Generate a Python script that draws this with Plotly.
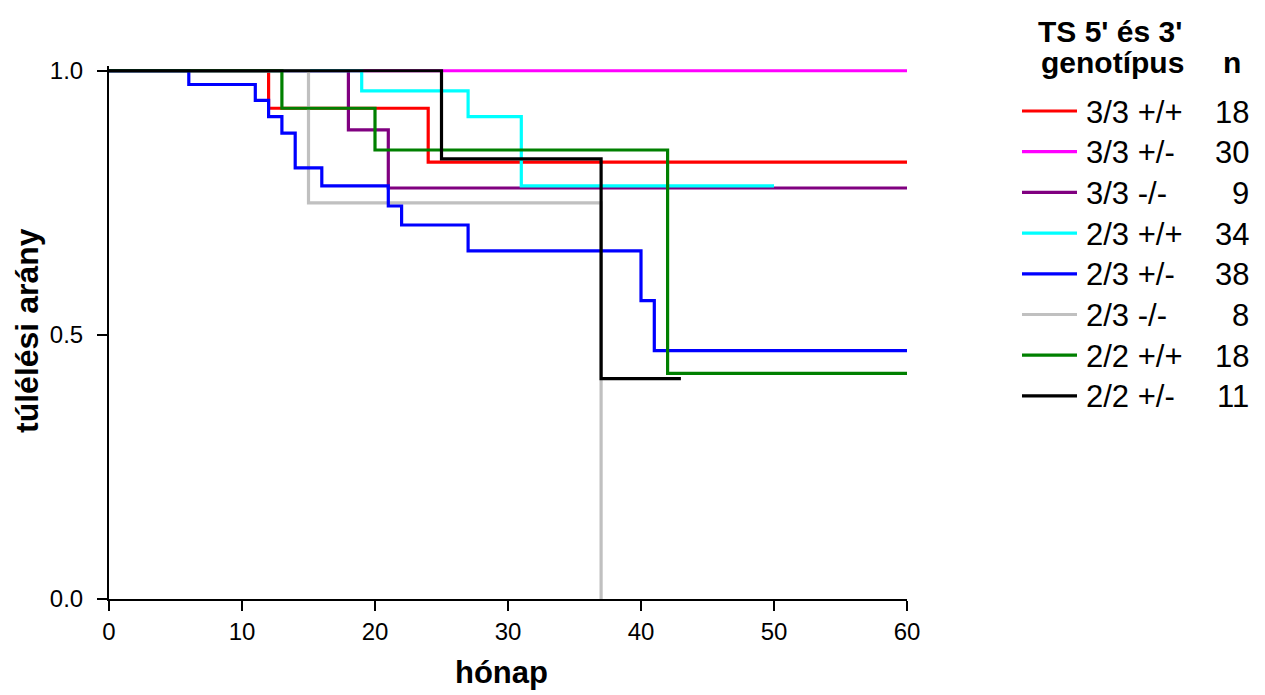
import plotly.graph_objects as go

# ---- data ----
labels = ["3/3 +/+", "3/3 +/-", "3/3 -/-", "2/3 +/+", "2/3 +/-", "2/3 -/-", "2/2 +/+", "2/2 +/-"]
n_values = [18, 30, 9, 34, 38, 8, 18, 11]
colors = ["#FF0000", "#FF00FF", "#800080", "#00FFFF", "#0000FF", "#C0C0C0", "#008000", "#000000"]

t_33pp = [0, 12, 24, 60]
s_33pp = [1.0, 0.929, 0.827, 0.827]
t_33pm = [0, 60]
s_33pm = [1.0, 1.0]
t_33mm = [0, 18, 21, 60]
s_33mm = [1.0, 0.888, 0.778, 0.778]
t_23pp = [0, 19, 27, 31, 50]
s_23pp = [1.0, 0.962, 0.913, 0.782, 0.782]
t_23pm = [0, 6, 11, 12, 13, 14, 16, 21, 22, 27, 40, 41, 60]
s_23pm = [1.0, 0.974, 0.944, 0.913, 0.882, 0.816, 0.782, 0.744, 0.708, 0.659, 0.565, 0.470, 0.470]
t_23mm = [0, 15, 37]
s_23mm = [1.0, 0.750, 0.0]
t_22pp = [0, 13, 20, 42, 60]
s_22pp = [1.0, 0.929, 0.850, 0.427, 0.427]
t_22pm = [0, 25, 37, 43]
s_22pm = [1.0, 0.833, 0.417, 0.417]

series_t = [t_33pp, t_33pm, t_33mm, t_23pp, t_23pm, t_23mm, t_22pp, t_22pm]
series_s = [s_33pp, s_33pm, s_33mm, s_23pp, s_23pm, s_23mm, s_22pp, s_22pm]

x_ticks = [0, 10, 20, 30, 40, 50, 60]
y_ticks = [0.0, 0.5, 1.0]

# ---- layout geometry (pixels in the 1265x695 window; page body has an 8px margin) ----
OFF = 8
W, H = 1265 - OFF, 695 - OFF
L, R, T, B = 109, 907, 66, 599  # plot area edges in window pixels
FONT = "Arial, Liberation Sans, sans-serif"


def px(x):
    return (x - L) / (R - L)


def py(y):
    return (B - y) / (B - T)


fig = go.Figure()
draw_order = [0, 1, 2, 3, 5, 4, 6, 7]
for i in draw_order:
    fig.add_trace(go.Scatter(
        x=series_t[i], y=series_s[i], mode="lines", line_shape="hv",
        line=dict(color=colors[i], width=3.2), name=labels[i], showlegend=False,
    ))

annotations = []
shapes = []
# legend header
annotations.append(dict(text="<b>TS 5' és 3'</b>", x=px(1110), y=py(32), xref="paper", yref="paper",
                        xanchor="center", yanchor="middle", showarrow=False,
                        font=dict(family=FONT, size=30, color="black")))
annotations.append(dict(text="<b>genotípus</b>", x=px(1112), y=py(62), xref="paper", yref="paper",
                        xanchor="center", yanchor="middle", showarrow=False,
                        font=dict(family=FONT, size=30, color="black")))
annotations.append(dict(text="<b>n</b>", x=px(1232), y=py(62), xref="paper", yref="paper",
                        xanchor="center", yanchor="middle", showarrow=False,
                        font=dict(family=FONT, size=30, color="black")))
row0, dy = 112, 40.7
for k, (lab, n, c) in enumerate(zip(labels, n_values, colors)):
    yy = row0 + k * dy
    shapes.append(dict(type="line", xref="paper", yref="paper", x0=px(1022), x1=px(1077),
                       y0=py(yy - 1), y1=py(yy - 1), line=dict(color=c, width=3.2)))
    annotations.append(dict(text=lab, x=px(1084), y=py(yy), xref="paper", yref="paper",
                            xanchor="left", yanchor="middle", showarrow=False,
                            font=dict(family=FONT, size=31, color="black")))
    annotations.append(dict(text=str(n), x=px(1251), y=py(yy), xref="paper", yref="paper",
                            xanchor="right", yanchor="middle", showarrow=False,
                            font=dict(family=FONT, size=31, color="black")))

# axis titles
annotations.append(dict(text="<b>hónap</b>", x=px(501), y=py(672), xref="paper", yref="paper",
                        xanchor="center", yanchor="middle", showarrow=False,
                        font=dict(family=FONT, size=31, color="black")))
annotations.append(dict(text="<b>túlélési arány</b>", x=px(27), y=py(331), xref="paper", yref="paper",
                        xanchor="center", yanchor="middle", showarrow=False, textangle=-90,
                        font=dict(family=FONT, size=32, color="black")))

fig.update_layout(
    width=W, height=H,
    margin=dict(l=L - OFF, r=1265 - R, t=T - OFF, b=695 - B, pad=0),
    paper_bgcolor="white", plot_bgcolor="white",
    font=dict(family=FONT, size=24, color="black"),
    showlegend=False,
    annotations=annotations, shapes=shapes,
)
fig.update_xaxes(range=[0, 60], tickvals=x_ticks, ticks="outside", ticklen=10, tickwidth=2,
                 tickcolor="black", showline=True, linewidth=2, linecolor="black",
                 showgrid=False, zeroline=False, ticklabelstandoff=0,
                 tickfont=dict(family=FONT, size=24, color="black"))
fig.update_yaxes(range=[0, 1.009], tickvals=y_ticks, tickformat=".1f", ticks="outside", ticklen=10,
                 tickwidth=2, tickcolor="black", showline=True, linewidth=2, linecolor="black",
                 showgrid=False, zeroline=False, ticklabelstandoff=9,
                 tickfont=dict(family=FONT, size=24, color="black"))

fig.write_html("out.html")
